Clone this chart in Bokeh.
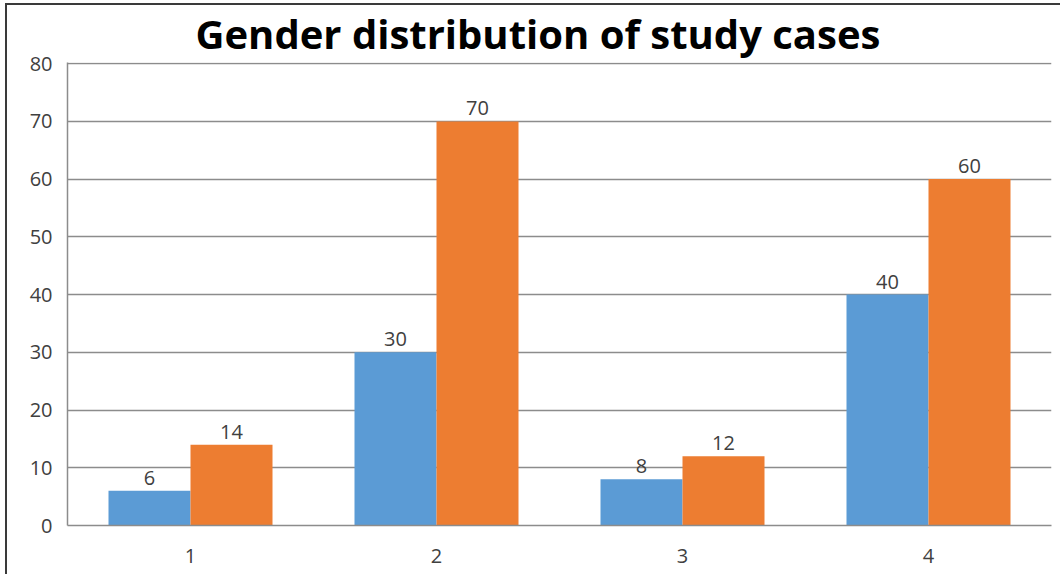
from bokeh.plotting import figure
from bokeh.models import Range1d, FixedTicker, ColumnDataSource, LabelSet
from bokeh.core.properties import value
from bokeh.embed import file_html
from bokeh.resources import INLINE

categories = [1, 2, 3, 4]
series_a = [6, 30, 8, 40]
series_b = [14, 70, 12, 60]
y_ticks = [0, 10, 20, 30, 40, 50, 60, 70, 80]

bw = 1 / 3
xa = [c - bw / 2 for c in categories]
xb = [c + bw / 2 for c in categories]

src_a = ColumnDataSource(dict(x=xa, top=series_a, lab=[str(v) for v in series_a]))
src_b = ColumnDataSource(dict(x=xb, top=series_b, lab=[str(v) for v in series_b]))

p = figure(width=1055, height=571, output_backend="svg", toolbar_location=None,
           x_range=Range1d(0.5, 4.5), y_range=Range1d(0, 80.2),
           min_border_left=60, min_border_right=11, min_border_top=57, min_border_bottom=51,
           title="Gender distribution of study cases")
p.styles = {"border-left": "2px solid #3a3a3a", "border-top": "2px solid #3a3a3a",
            "margin-left": "5px", "margin-top": "3px"}

p.title.align = "left"
p.title.vertical_align = "top"
p.title.offset = 128
p.title.text_font = "Open Sans"
p.title.text_font_style = "bold"
p.title.text_font_size = "40px"
p.title.text_color = "#000000"
p.title.text_line_height = 1.0
p.title.standoff = 0

p.vbar(x="x", top="top", width=bw, source=src_a, fill_color="#5B9BD5", line_color=None)
p.vbar(x="x", top="top", width=bw, source=src_b, fill_color="#ED7D31", line_color=None)

for s in (src_a, src_b):
    p.add_layout(LabelSet(x="x", y="top", text="lab", source=s, text_align="center",
                          text_baseline="bottom", y_offset=6, text_font=value("Open Sans"),
                          text_font_size="20px", text_color="#404040"))

p.outline_line_color = None
p.xgrid.grid_line_color = None
p.ygrid.grid_line_color = "#8c8c8c"
p.ygrid.grid_line_width = 1.5
p.yaxis.ticker = FixedTicker(ticks=y_ticks)
p.xaxis.ticker = FixedTicker(ticks=categories)

for ax in (p.xaxis, p.yaxis):
    ax.axis_line_color = "#8c8c8c"
    ax.axis_line_width = 1.5
    ax.major_tick_line_color = None
    ax.minor_tick_line_color = None
    ax.major_label_text_font = "Open Sans"
    ax.major_label_text_font_size = "20px"
    ax.major_label_text_color = "#404040"
p.yaxis.major_label_standoff = 9
p.xaxis.major_label_standoff = 17

open("out.html", "w").write(file_html(p, INLINE))
